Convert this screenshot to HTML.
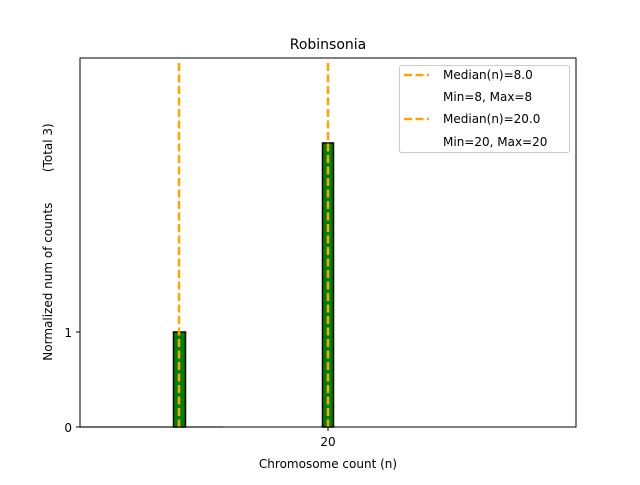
<!DOCTYPE html>
<html><head><style>body{margin:0;background:#fff}</style></head><body>
<svg width="640" height="480" xmlns="http://www.w3.org/2000/svg" font-family="DejaVu Sans, Liberation Sans, sans-serif">
<rect width="640" height="480" fill="#fff"/>
<line x1="80" y1="427" x2="223" y2="427" stroke="#bbb" stroke-width="1.5"/>
<rect x="173.5" y="332" width="12" height="95" fill="green" stroke="#000" stroke-width="1.5"/>
<rect x="322.5" y="143" width="11" height="284" fill="green" stroke="#000" stroke-width="1.5"/>
<line x1="179" y1="63" x2="179" y2="427" stroke="orange" stroke-width="2.5" stroke-dasharray="8,3.5"/>
<line x1="328" y1="63" x2="328" y2="427" stroke="orange" stroke-width="2.5" stroke-dasharray="8,3.5"/>
<rect x="80" y="58" width="496" height="369" fill="none" stroke="#000" stroke-width="1"/>
<line x1="76" y1="427" x2="80" y2="427" stroke="#000"/>
<line x1="76" y1="332" x2="80" y2="332" stroke="#000"/>
<line x1="328" y1="427" x2="328" y2="431" stroke="#000"/>
<g font-size="12" fill="#000">
<text x="72" y="432" text-anchor="end">0</text>
<text x="72" y="337" text-anchor="end">1</text>
<text x="328" y="446" text-anchor="middle">20</text>
<text x="328" y="468" text-anchor="middle">Chromosome count (n)</text>
<text transform="translate(52,242) rotate(-90)" text-anchor="middle" style="white-space:pre" xml:space="preserve">Normalized num of counts        (Total 3)</text>
</g>
<text x="328" y="49" text-anchor="middle" font-size="14">Robinsonia</text>
<rect x="399.5" y="65.5" width="170" height="87" rx="2" fill="#fff" stroke="#ccc"/>
<line x1="404" y1="75" x2="429" y2="75" stroke="orange" stroke-width="2.5" stroke-dasharray="8,3.5"/>
<line x1="404" y1="119" x2="429" y2="119" stroke="orange" stroke-width="2.5" stroke-dasharray="8,3.5"/>
<g font-size="12" fill="#000">
<text x="443" y="79">Median(n)=8.0</text>
<text x="443" y="101">Min=8, Max=8</text>
<text x="443" y="123">Median(n)=20.0</text>
<text x="443" y="146">Min=20, Max=20</text>
</g>
</svg>
</body></html>
